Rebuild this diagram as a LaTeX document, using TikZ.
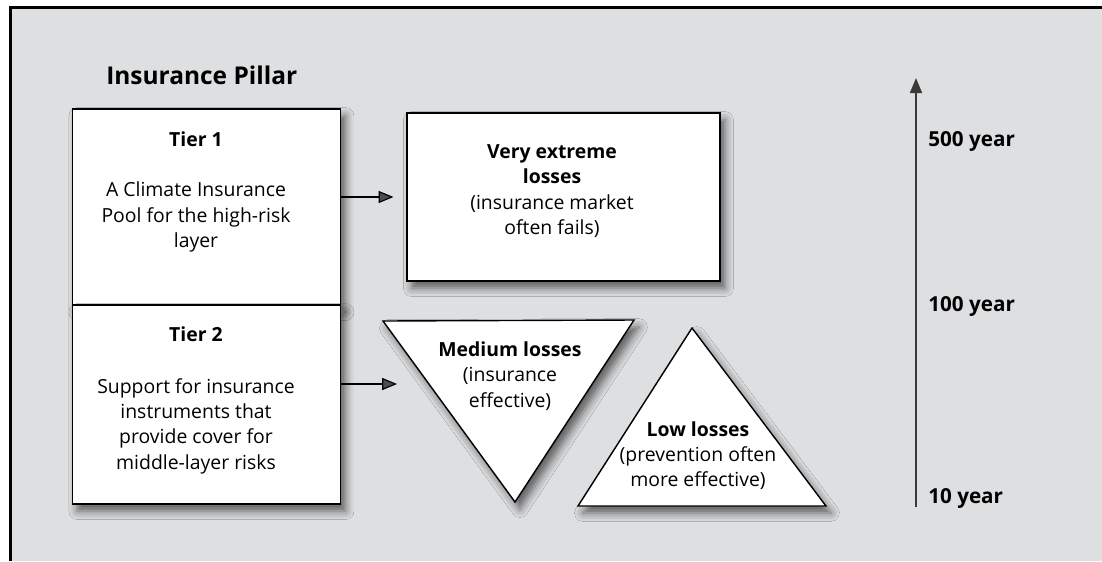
\documentclass[tikz,border=0pt]{standalone}
\usepackage{fontspec}
\setmainfont{Open Sans}
\usetikzlibrary{arrows.meta,shadows.blur}
\definecolor{panel}{HTML}{DEDFE1}
\definecolor{axisgray}{HTML}{3A3A3A}

\begin{document}
\begin{tikzpicture}[x=0.025cm, y=-0.025cm,
  shade/.style={blur shadow={shadow xshift=3.5pt, shadow yshift=-5pt, shadow blur radius=6pt, shadow opacity=60}},
  box/.style={rectangle, draw=black, line width=1.2pt, fill=white, inner sep=0pt, shade},
  tri/.style={draw=black, line width=1pt, fill=white, line join=miter, shade},
  head/.style={font=\fontsize{13.8}{18}\selectfont\bfseries, inner sep=0pt},
  body/.style={font=\fontsize{13.8}{18}\selectfont, align=center, inner sep=0pt},
  yearlbl/.style={anchor=base west, font=\fontsize{14.7}{18}\selectfont\bfseries, inner sep=0pt},
  arrow/.style={-{Triangle[length=10.5pt, width=8.5pt]}, line width=0.8pt},
  axis/.style={-{Triangle[length=10.7pt, width=8.5pt]}, line width=1.5pt, axisgray},
]
  \useasboundingbox (0,0) rectangle (1102,561);
  % panel
  \fill[panel] (10.5,7.5) rectangle (1102,561);
  \draw[line width=1.9pt, line join=miter] (10.5,561) -- (10.5,7.5) -- (1102,7.5);

  \node[anchor=base west, font=\fontsize{17.4}{22}\selectfont\bfseries, inner sep=0pt] (title) at (106,84.3) {Insurance Pillar};

  % tiers
  \node[box, minimum width=6.7cm, minimum height=4.9cm] (tier1) at (206.5,207) {};
  \node[box, minimum width=6.7cm, minimum height=4.975cm] (tier2) at (206.5,404.5) {};
  \node[head, anchor=base] (t1head) at (196,146) {Tier 1};
  \node[body] (t1body) at (196,217) {A Climate Insurance\\Pool for the high-risk\\layer};
  \node[head, anchor=base] (t2head) at (196,341.5) {Tier 2};
  \node[body] (t2body) at (196,426) {Support for insurance\\instruments that\\provide cover for\\middle-layer risks};

  % losses
  \node[box, minimum width=7.825cm, minimum height=4.2cm] (vel) at (563.5,197) {};
  \node[body] (veltxt) at (552,191) {\textbf{Very extreme}\\\textbf{losses}\\(insurance market\\often fails)};

  \coordinate (medl) at (383,321);
  \coordinate (medr) at (634,320);
  \coordinate (medb) at (515,502);
  \draw[tri] (medl) -- (medr) -- (medb) -- cycle;
  \node[body] (medtxt) at (510,376) {\textbf{Medium losses}\\(insurance\\effective)};

  \coordinate (lowt) at (692,328);
  \coordinate (lowl) at (578,506);
  \coordinate (lowr) at (826,506);
  \draw[tri] (lowt) -- (lowr) -- (lowl) -- cycle;
  \node[body] (lowtxt) at (698,455.5) {\textbf{Low losses}\\(prevention often\\more effective)};

  \coordinate (medin) at (397,384);
  \draw[arrow, shorten >=9pt] (tier1.east |- vel.west) -- (vel.west);
  \draw[arrow] (tier2.east |- medin) -- (medin);

  % return period axis
  \coordinate (axbot) at (916,507);
  \coordinate (axtop) at (916,78);
  \draw[axis] (axbot) -- (axtop);
  \node[yearlbl] (y500) at (928,146.5) {500 year};
  \node[yearlbl] (y100) at (928,311) {100 year};
  \node[yearlbl] (y10) at (928,503) {10 year};
\end{tikzpicture}
\end{document}
